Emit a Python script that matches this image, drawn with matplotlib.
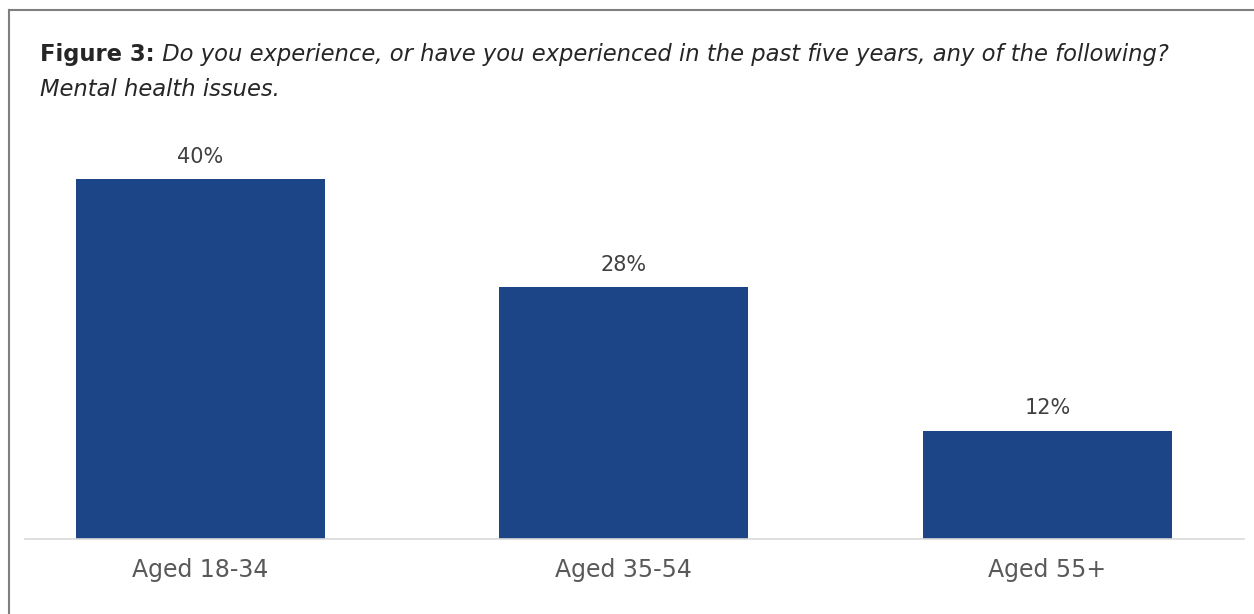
import matplotlib.pyplot as plt
from matplotlib.lines import Line2D

# --- data ---
groups = ["Aged 18-34", "Aged 35-54", "Aged 55+"]
values = [40, 28, 12]

title_bold = "Figure 3:"
title_rest = " Do you experience, or have you experienced in the past five years, any of the following?"
subtitle = "Mental health issues."

W, H = 1254, 614
fig = plt.figure(figsize=(W / 100, H / 100), dpi=100)
fig.patch.set_facecolor("white")

# axes placed by pixel coords (baseline at y=539, bar top of 40% at y=179)
base_px, top_px = 539, 140
ax = fig.add_axes([25 / W, (H - base_px) / H, (1244 - 25) / W, (base_px - top_px) / H])
ax.bar(range(len(groups)), values, width=0.588, color="#1c4587")
ax.set_xlim(-0.414, 2.464)
ax.set_ylim(0, 40 * (base_px - top_px) / (base_px - 179))

for i, v in enumerate(values):
    ax.annotate(f"{v}%", (i, v), xytext=(0, 9), textcoords="offset points",
                ha="center", va="bottom", fontsize=15, color="#404040")

ax.set_xticks(range(len(groups)))
ax.set_xticklabels(groups, fontsize=17, color="#595959")
ax.tick_params(axis="x", length=0, pad=14)
ax.set_yticks([])
for s in ["top", "right", "left"]:
    ax.spines[s].set_visible(False)
ax.spines["bottom"].set_color("#d9d9d9")
ax.spines["bottom"].set_linewidth(1.2)

# title, bold prefix then italic text
fs = 16.3
t1 = fig.text(40 / W, 1 - 55 / H, title_bold, fontsize=fs, fontweight="bold",
              color="#262626", va="center", ha="left")
fig.canvas.draw()
bb = t1.get_window_extent(renderer=fig.canvas.get_renderer())
fig.text(bb.x1 / W, 1 - 55 / H, title_rest, fontsize=fs, style="italic",
         color="#262626", va="center", ha="left")
fig.text(40 / W, 1 - 89 / H, subtitle, fontsize=fs, style="italic",
         color="#262626", va="center", ha="left")

# frame lines (top and left)
fig.add_artist(Line2D([9 / W, 1], [1 - 10 / H, 1 - 10 / H], color="#7f7f7f", lw=1.5))
fig.add_artist(Line2D([9 / W, 9 / W], [0, 1 - 10 / H], color="#7f7f7f", lw=1.5))

fig.savefig("out.png", dpi=100)
